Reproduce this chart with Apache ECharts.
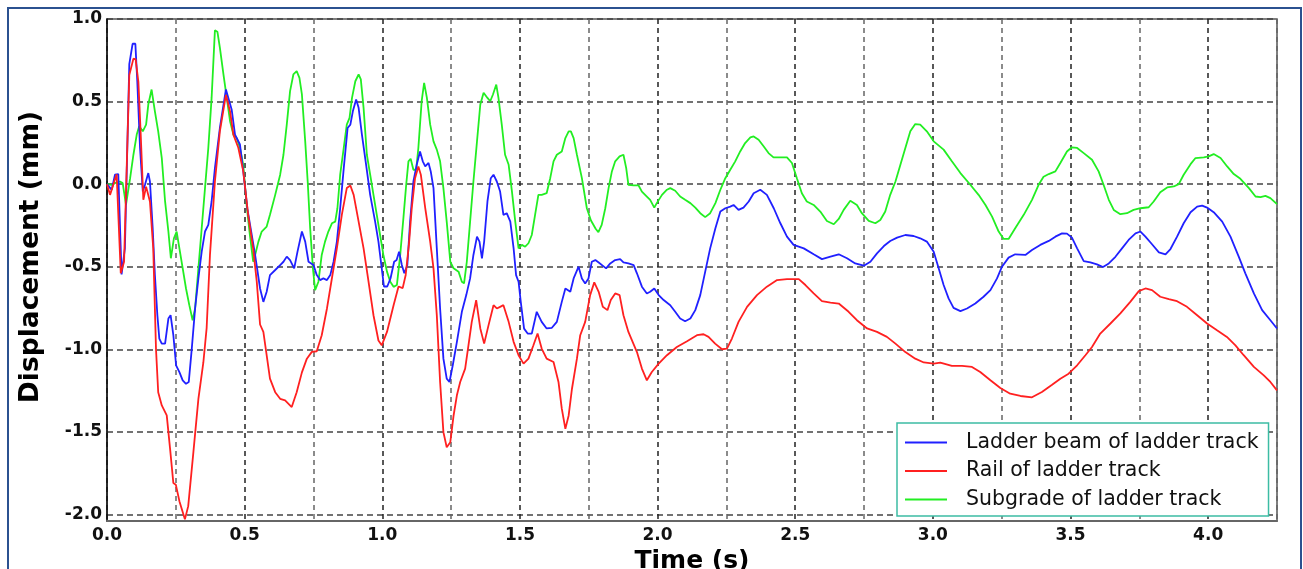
<!DOCTYPE html>
<html>
<head>
<meta charset="utf-8">
<script src="https://cdn.jsdelivr.net/npm/echarts@6/dist/echarts.min.js"></script>
<style>
  html, body { margin: 0; padding: 0; background: #fff; }
  #chart { width: 1303px; height: 569px; }
</style>
</head>
<body>
<div id="chart"></div>
<script>
const seriesNames = ['Ladder beam of ladder track', 'Rail of ladder track', 'Subgrade of ladder track'];

// [time (s), displacement (mm)]
const ladderBeam = [
  [0, 0], [0.017, -0.035], [0.029, 0.057], [0.041, 0.061], [0.053, -0.547], [0.065, -0.389], [0.081, 0.727],
  [0.093, 0.85], [0.103, 0.85], [0.11, 0.623], [0.12, 0.219], [0.13, -0.045], [0.138, -0.004], [0.15, 0.067],
  [0.156, 0.016], [0.166, -0.267], [0.174, -0.551], [0.183, -0.794], [0.19, -0.935], [0.199, -0.966],
  [0.211, -0.966], [0.223, -0.814], [0.231, -0.794], [0.241, -0.915], [0.251, -1.097], [0.263, -1.138],
  [0.275, -1.188], [0.287, -1.209], [0.297, -1.198], [0.308, -0.996], [0.32, -0.753], [0.332, -0.571],
  [0.344, -0.409], [0.356, -0.287], [0.368, -0.247], [0.38, -0.105], [0.392, 0.097], [0.41, 0.34],
  [0.432, 0.573], [0.453, 0.45], [0.465, 0.3], [0.483, 0.24], [0.495, 0.077], [0.51, -0.15], [0.52, -0.25],
  [0.538, -0.429], [0.556, -0.632], [0.568, -0.713], [0.58, -0.652], [0.592, -0.551], [0.611, -0.52],
  [0.629, -0.49], [0.641, -0.47], [0.653, -0.439], [0.665, -0.46], [0.68, -0.51], [0.692, -0.409],
  [0.708, -0.287], [0.72, -0.348], [0.732, -0.47], [0.75, -0.49], [0.762, -0.551], [0.774, -0.581],
  [0.786, -0.571], [0.799, -0.581], [0.811, -0.551], [0.823, -0.47], [0.835, -0.348], [0.847, -0.146],
  [0.86, 0.097], [0.874, 0.34], [0.884, 0.36], [0.893, 0.441], [0.905, 0.512], [0.914, 0.462], [0.926, 0.3],
  [0.941, 0.12], [0.956, -0.065], [0.974, -0.227], [0.986, -0.348], [0.998, -0.51], [1.006, -0.62],
  [1.018, -0.62], [1.03, -0.57], [1.043, -0.47], [1.052, -0.46], [1.061, -0.409], [1.071, -0.49],
  [1.08, -0.54], [1.091, -0.49], [1.101, -0.227], [1.113, 0.016], [1.125, 0.117], [1.137, 0.198],
  [1.147, 0.138], [1.156, 0.107], [1.168, 0.128], [1.176, 0.077], [1.186, -0.024], [1.198, -0.389],
  [1.21, -0.753], [1.222, -1.057], [1.234, -1.178], [1.244, -1.198], [1.256, -1.097], [1.271, -0.955],
  [1.289, -0.773], [1.305, -0.672], [1.319, -0.571], [1.331, -0.429], [1.344, -0.318], [1.353, -0.348],
  [1.362, -0.449], [1.37, -0.348], [1.382, -0.105], [1.394, 0.036], [1.404, 0.057], [1.416, 0.016],
  [1.428, -0.045], [1.44, -0.186], [1.452, -0.176], [1.465, -0.227], [1.477, -0.389], [1.486, -0.551],
  [1.495, -0.591], [1.503, -0.713], [1.515, -0.875], [1.528, -0.905], [1.543, -0.905], [1.561, -0.773],
  [1.579, -0.834], [1.597, -0.874], [1.616, -0.87], [1.634, -0.834], [1.652, -0.713], [1.665, -0.632],
  [1.683, -0.652], [1.695, -0.571], [1.713, -0.5], [1.725, -0.571], [1.737, -0.601], [1.749, -0.571],
  [1.761, -0.47], [1.774, -0.46], [1.786, -0.475], [1.813, -0.51], [1.828, -0.48], [1.846, -0.46],
  [1.864, -0.454], [1.876, -0.474], [1.894, -0.48], [1.913, -0.49], [1.925, -0.54], [1.943, -0.621],
  [1.961, -0.662], [1.973, -0.652], [1.988, -0.632], [2.004, -0.672], [2.022, -0.702], [2.046, -0.733],
  [2.064, -0.773], [2.082, -0.814], [2.1, -0.83], [2.119, -0.814], [2.137, -0.763], [2.155, -0.672],
  [2.173, -0.53], [2.191, -0.389], [2.21, -0.267], [2.228, -0.166], [2.246, -0.146], [2.264, -0.136],
  [2.276, -0.126], [2.294, -0.156], [2.312, -0.142], [2.331, -0.105], [2.349, -0.055], [2.373, -0.034],
  [2.397, -0.065], [2.422, -0.146], [2.446, -0.237], [2.47, -0.318], [2.494, -0.368], [2.531, -0.389],
  [2.567, -0.425], [2.597, -0.454], [2.628, -0.439], [2.658, -0.425], [2.688, -0.449], [2.718, -0.48],
  [2.749, -0.494], [2.773, -0.47], [2.797, -0.419], [2.822, -0.375], [2.845, -0.344], [2.87, -0.324],
  [2.9, -0.308], [2.93, -0.314], [2.954, -0.328], [2.978, -0.348], [3.003, -0.409], [3.021, -0.51],
  [3.039, -0.611], [3.057, -0.692], [3.075, -0.749], [3.1, -0.769], [3.124, -0.753], [3.154, -0.723],
  [3.184, -0.682], [3.209, -0.642], [3.233, -0.571], [3.251, -0.5], [3.275, -0.445], [3.299, -0.425],
  [3.336, -0.429], [3.36, -0.399], [3.39, -0.368], [3.421, -0.344], [3.445, -0.318], [3.469, -0.298],
  [3.487, -0.3], [3.505, -0.324], [3.524, -0.389], [3.548, -0.466], [3.572, -0.474], [3.596, -0.486],
  [3.618, -0.502], [3.639, -0.48], [3.663, -0.44], [3.687, -0.389], [3.711, -0.338], [3.736, -0.298],
  [3.754, -0.287], [3.772, -0.318], [3.796, -0.364], [3.821, -0.413], [3.845, -0.425], [3.863, -0.393],
  [3.887, -0.318], [3.911, -0.237], [3.936, -0.17], [3.96, -0.136], [3.978, -0.13], [3.996, -0.142],
  [4.02, -0.17], [4.051, -0.227], [4.081, -0.318], [4.111, -0.439], [4.135, -0.54], [4.166, -0.662],
  [4.196, -0.763], [4.226, -0.824], [4.25, -0.874]
];

const rail = [
  [0, 0], [0.011, -0.065], [0.035, 0.06], [0.042, 0.055], [0.05, -0.54], [0.062, -0.47], [0.081, 0.66],
  [0.096, 0.76], [0.104, 0.755], [0.114, 0.62], [0.122, 0.32], [0.132, -0.095], [0.142, -0.015],
  [0.156, -0.105], [0.168, -0.39], [0.178, -1.0], [0.186, -1.26], [0.199, -1.34], [0.217, -1.4],
  [0.229, -1.6], [0.241, -1.81], [0.25, -1.82], [0.263, -1.92], [0.283, -2.03], [0.295, -1.95],
  [0.314, -1.62], [0.332, -1.3], [0.35, -1.08], [0.362, -0.87], [0.374, -0.43], [0.392, 0.016], [0.41, 0.32],
  [0.432, 0.54], [0.447, 0.44], [0.459, 0.3], [0.477, 0.22], [0.495, 0.077], [0.513, -0.19], [0.531, -0.39],
  [0.544, -0.59], [0.556, -0.85], [0.568, -0.895], [0.592, -1.178], [0.611, -1.26], [0.629, -1.3],
  [0.647, -1.31], [0.671, -1.35], [0.689, -1.26], [0.708, -1.14], [0.726, -1.057], [0.744, -1.016],
  [0.762, -1.012], [0.78, -0.915], [0.799, -0.753], [0.817, -0.57], [0.835, -0.389], [0.853, -0.186],
  [0.871, -0.024], [0.884, -0.008], [0.896, -0.065], [0.914, -0.227], [0.932, -0.389], [0.95, -0.591],
  [0.968, -0.794], [0.986, -0.947], [0.998, -0.976], [1.017, -0.895], [1.041, -0.733], [1.059, -0.62],
  [1.074, -0.63], [1.085, -0.55], [1.097, -0.36], [1.107, -0.146], [1.119, 0.036], [1.131, 0.107],
  [1.14, 0.057], [1.156, -0.146], [1.174, -0.348], [1.186, -0.51], [1.198, -0.793], [1.21, -1.198],
  [1.222, -1.502], [1.234, -1.593], [1.247, -1.563], [1.259, -1.401], [1.271, -1.279], [1.283, -1.198],
  [1.301, -1.117], [1.313, -0.976], [1.325, -0.834], [1.341, -0.703], [1.356, -0.874], [1.37, -0.966],
  [1.386, -0.854], [1.404, -0.733], [1.416, -0.753], [1.428, -0.743], [1.44, -0.733], [1.459, -0.834],
  [1.477, -0.955], [1.495, -1.036], [1.513, -1.087], [1.531, -1.057], [1.549, -0.976], [1.564, -0.905],
  [1.579, -0.996], [1.597, -1.057], [1.622, -1.077], [1.64, -1.198], [1.652, -1.36], [1.665, -1.482],
  [1.677, -1.401], [1.689, -1.239], [1.707, -1.057], [1.719, -0.915], [1.737, -0.834], [1.755, -0.672],
  [1.77, -0.595], [1.786, -0.652], [1.801, -0.743], [1.818, -0.763], [1.83, -0.702], [1.846, -0.662],
  [1.862, -0.672], [1.876, -0.794], [1.894, -0.895], [1.925, -1.017], [1.943, -1.117], [1.961, -1.188],
  [1.979, -1.138], [2.004, -1.087], [2.034, -1.036], [2.07, -0.986], [2.107, -0.951], [2.143, -0.915],
  [2.167, -0.909], [2.185, -0.925], [2.209, -0.966], [2.234, -1.0], [2.252, -0.996], [2.27, -0.935],
  [2.294, -0.834], [2.325, -0.743], [2.361, -0.672], [2.397, -0.621], [2.434, -0.581], [2.47, -0.575],
  [2.513, -0.575], [2.537, -0.611], [2.567, -0.662], [2.597, -0.709], [2.628, -0.717], [2.658, -0.723],
  [2.694, -0.773], [2.724, -0.824], [2.761, -0.874], [2.797, -0.895], [2.833, -0.925], [2.864, -0.966],
  [2.9, -1.017], [2.936, -1.057], [2.967, -1.08], [3.003, -1.087], [3.027, -1.081], [3.069, -1.101],
  [3.106, -1.101], [3.142, -1.107], [3.172, -1.138], [3.209, -1.188], [3.245, -1.235], [3.281, -1.269],
  [3.318, -1.283], [3.36, -1.291], [3.396, -1.259], [3.433, -1.215], [3.463, -1.178], [3.493, -1.148],
  [3.524, -1.097], [3.554, -1.036], [3.578, -0.986], [3.608, -0.905], [3.645, -0.844], [3.681, -0.783],
  [3.717, -0.713], [3.748, -0.648], [3.772, -0.632], [3.796, -0.642], [3.826, -0.682], [3.857, -0.696],
  [3.887, -0.709], [3.923, -0.743], [3.96, -0.794], [3.996, -0.844], [4.032, -0.885], [4.068, -0.925],
  [4.099, -0.976], [4.129, -1.036], [4.166, -1.107], [4.202, -1.158], [4.226, -1.198], [4.25, -1.249]
];

const subgrade = [
  [0, 0], [0.017, -0.004], [0.029, 0.006], [0.047, 0.016], [0.057, 0.006], [0.069, -0.126], [0.084, 0.036],
  [0.096, 0.178], [0.108, 0.3], [0.117, 0.35], [0.13, 0.32], [0.142, 0.36], [0.15, 0.482], [0.162, 0.573],
  [0.174, 0.441], [0.186, 0.32], [0.199, 0.158], [0.211, -0.105], [0.223, -0.287], [0.232, -0.449],
  [0.243, -0.328], [0.253, -0.287], [0.263, -0.389], [0.275, -0.51], [0.287, -0.632], [0.299, -0.733],
  [0.311, -0.824], [0.32, -0.753], [0.332, -0.51], [0.344, -0.267], [0.356, -0.024], [0.368, 0.219],
  [0.38, 0.522], [0.392, 0.931], [0.401, 0.923], [0.41, 0.826], [0.423, 0.664], [0.435, 0.522],
  [0.447, 0.381], [0.459, 0.3], [0.471, 0.279], [0.483, 0.219], [0.495, 0.117], [0.507, -0.126],
  [0.519, -0.308], [0.531, -0.47], [0.538, -0.429], [0.55, -0.348], [0.562, -0.287], [0.58, -0.257],
  [0.592, -0.186], [0.611, -0.065], [0.629, 0.057], [0.641, 0.178], [0.653, 0.36], [0.665, 0.563],
  [0.677, 0.664], [0.689, 0.684], [0.699, 0.644], [0.708, 0.543], [0.72, 0.259], [0.729, 0.016],
  [0.738, -0.267], [0.748, -0.51], [0.756, -0.642], [0.768, -0.591], [0.78, -0.429], [0.792, -0.348],
  [0.804, -0.287], [0.817, -0.237], [0.829, -0.227], [0.837, -0.146], [0.847, 0.057], [0.86, 0.219],
  [0.871, 0.36], [0.881, 0.401], [0.89, 0.522], [0.902, 0.623], [0.914, 0.664], [0.922, 0.634],
  [0.932, 0.462], [0.944, 0.178], [0.956, 0.057], [0.968, -0.065], [0.98, -0.186], [0.992, -0.308],
  [1.004, -0.429], [1.017, -0.53], [1.029, -0.591], [1.041, -0.622], [1.053, -0.611], [1.065, -0.43],
  [1.077, -0.2], [1.087, 0.0], [1.095, 0.138], [1.103, 0.154], [1.113, 0.087], [1.123, 0.087],
  [1.131, 0.219], [1.143, 0.502], [1.152, 0.613], [1.162, 0.522], [1.174, 0.36], [1.186, 0.259],
  [1.198, 0.209], [1.21, 0.138], [1.222, -0.024], [1.234, -0.227], [1.247, -0.47], [1.259, -0.51],
  [1.277, -0.53], [1.289, -0.591], [1.297, -0.601], [1.307, -0.47], [1.319, -0.227], [1.331, 0.016],
  [1.344, 0.259], [1.356, 0.482], [1.368, 0.553], [1.382, 0.522], [1.392, 0.502], [1.402, 0.543],
  [1.414, 0.603], [1.422, 0.522], [1.434, 0.36], [1.446, 0.178], [1.459, 0.117], [1.471, -0.045],
  [1.483, -0.227], [1.495, -0.389], [1.507, -0.368], [1.519, -0.379], [1.531, -0.358], [1.543, -0.308],
  [1.555, -0.186], [1.567, -0.065], [1.579, -0.065], [1.597, -0.055], [1.61, 0.036], [1.622, 0.138],
  [1.634, 0.178], [1.652, 0.198], [1.665, 0.279], [1.677, 0.32], [1.685, 0.32], [1.695, 0.279],
  [1.707, 0.178], [1.725, 0.036], [1.743, -0.146], [1.758, -0.22], [1.775, -0.27], [1.785, -0.291],
  [1.797, -0.247], [1.81, -0.146], [1.822, -0.024], [1.834, 0.077], [1.846, 0.138], [1.862, 0.168],
  [1.876, 0.178], [1.886, 0.097], [1.894, -0.004], [1.913, -0.008], [1.931, -0.008], [1.943, -0.045],
  [1.961, -0.075], [1.973, -0.095], [1.988, -0.142], [1.997, -0.115], [2.016, -0.065], [2.034, -0.034],
  [2.046, -0.024], [2.064, -0.04], [2.082, -0.075], [2.1, -0.095], [2.119, -0.115], [2.137, -0.142],
  [2.155, -0.176], [2.173, -0.2], [2.191, -0.176], [2.21, -0.115], [2.228, -0.034], [2.246, 0.036],
  [2.264, 0.087], [2.282, 0.138], [2.3, 0.198], [2.318, 0.249], [2.337, 0.283], [2.349, 0.289],
  [2.367, 0.269], [2.385, 0.229], [2.403, 0.188], [2.421, 0.162], [2.446, 0.162], [2.47, 0.162],
  [2.488, 0.128], [2.506, 0.036], [2.524, -0.055], [2.542, -0.105], [2.567, -0.126], [2.591, -0.166],
  [2.615, -0.223], [2.64, -0.243], [2.658, -0.211], [2.676, -0.156], [2.7, -0.101], [2.724, -0.126],
  [2.742, -0.176], [2.767, -0.223], [2.791, -0.237], [2.809, -0.217], [2.827, -0.166], [2.845, -0.065],
  [2.864, 0.016], [2.882, 0.117], [2.9, 0.219], [2.918, 0.32], [2.936, 0.364], [2.954, 0.36],
  [2.978, 0.32], [3.003, 0.259], [3.039, 0.209], [3.069, 0.138], [3.1, 0.067], [3.136, -0.004],
  [3.166, -0.065], [3.191, -0.126], [3.215, -0.197], [3.239, -0.287], [3.257, -0.332], [3.275, -0.332],
  [3.299, -0.267], [3.33, -0.186], [3.36, -0.095], [3.384, -0.004], [3.402, 0.045], [3.421, 0.061],
  [3.445, 0.077], [3.463, 0.128], [3.487, 0.198], [3.505, 0.223], [3.524, 0.219], [3.548, 0.188],
  [3.578, 0.148], [3.602, 0.077], [3.62, -0.004], [3.639, -0.095], [3.657, -0.156], [3.681, -0.182],
  [3.705, -0.176], [3.729, -0.156], [3.754, -0.146], [3.784, -0.14], [3.802, -0.105], [3.826, -0.049],
  [3.851, -0.02], [3.875, -0.014], [3.893, 0.0], [3.911, 0.057], [3.936, 0.121], [3.954, 0.158],
  [3.984, 0.162], [4.002, 0.168], [4.02, 0.182], [4.045, 0.158], [4.069, 0.107], [4.093, 0.061],
  [4.117, 0.032], [4.148, -0.024], [4.172, -0.075], [4.19, -0.079], [4.208, -0.071], [4.226, -0.085],
  [4.25, -0.121]
];

const lineColors = ['#2020ff', '#ff2020', '#22ee22'];

const chart = echarts.init(document.getElementById('chart'));

// only label the half-second / half-mm ticks
const halfLabel = (v) => (Math.abs(v * 2 - Math.round(v * 2)) < 1e-6 ? v.toFixed(1) : '');

const labelFont = { fontFamily: 'DejaVu Sans', fontWeight: 'bold', fontSize: 17, color: '#111' };

chart.setOption({
  animation: false,
  backgroundColor: '#fff',
  graphic: [{
    type: 'rect',
    shape: { x: 8, y: 8, width: 1293, height: 600 },
    style: { fill: 'none', stroke: '#2b5190', lineWidth: 2 },
    z: -1,
  }],
  grid: {
    left: 107, right: 26, top: 19, bottom: 48,
    outerBoundsMode: 'none',
    show: true, borderColor: '#555', borderWidth: 1.5,
  },
  legend: {
    orient: 'vertical',
    left: 897,
    top: 423,
    padding: [9, 10, 6, 8],
    itemGap: 7.5,
    itemWidth: 42,
    itemHeight: 2,
    icon: 'rect',
    backgroundColor: '#fff',
    borderColor: '#3cbca4',
    borderWidth: 1.5,
    borderRadius: 0,
    textStyle: { fontFamily: 'DejaVu Sans', fontSize: 20.5, color: '#111', padding: [0, 0, 0, 14] },
    data: seriesNames,
  },
  xAxis: {
    type: 'value',
    min: 0,
    max: 4.25,
    interval: 0.25,
    name: 'Time (s)',
    nameLocation: 'middle',
    nameGap: 24,
    nameTextStyle: { fontFamily: 'DejaVu Sans', fontWeight: 'bold', fontSize: 25, color: '#000' },
    axisLine: { onZero: false, lineStyle: { color: '#666', width: 2 } },
    axisTick: { show: false },
    axisLabel: Object.assign({ margin: 6, formatter: halfLabel }, labelFont),
    splitLine: { show: true, lineStyle: { color: ['#222', '#666'], type: [5, 4], width: 1.5 } },
  },
  yAxis: {
    type: 'value',
    min: -2.04,
    max: 1.0,
    splitNumber: 6,
    name: 'Displacement (mm)',
    nameLocation: 'middle',
    nameGap: 62,
    nameTextStyle: { fontFamily: 'DejaVu Sans', fontWeight: 'bold', fontSize: 26.5, color: '#000', padding: [0, 0, 0, 26] },
    axisLine: { show: true, onZero: false, lineStyle: { color: '#111', width: 1.5 } },
    axisTick: { show: false },
    axisLabel: Object.assign({ margin: 5, formatter: halfLabel }, labelFont),
    splitLine: { show: true, lineStyle: { color: '#444', type: [6, 4], width: 1.5 } },
  },
  series: [
    { name: seriesNames[0], type: 'line', data: ladderBeam, symbol: 'none', lineStyle: { width: 1.8, color: lineColors[0] }, itemStyle: { color: lineColors[0] }, z: 3 },
    { name: seriesNames[1], type: 'line', data: rail, symbol: 'none', lineStyle: { width: 1.8, color: lineColors[1] }, itemStyle: { color: lineColors[1] }, z: 4 },
    { name: seriesNames[2], type: 'line', data: subgrade, symbol: 'none', lineStyle: { width: 1.8, color: lineColors[2] }, itemStyle: { color: lineColors[2] }, z: 2 },
  ],
});
</script>
</body>
</html>
